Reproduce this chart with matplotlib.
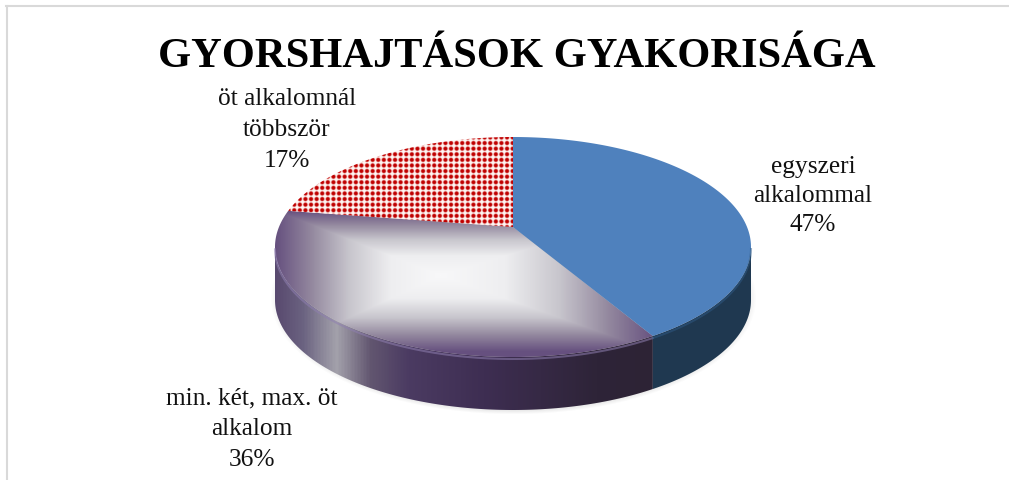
import numpy as np
import matplotlib.pyplot as plt
from matplotlib.colors import LinearSegmentedColormap
from matplotlib.patches import Polygon

# labels as printed on the chart
categories = ['egyszeri\nalkalommal', 'min. két, max. öt\nalkalom', 'öt alkalomnál\ntöbbször']
values = [47, 36, 17]
# the 3D wedges do not follow the printed percents, these are measured off the drawn slices
drawn_shares = [41.6, 35.9, 22.5]
title = 'GYORSHAJTÁSOK GYAKORISÁGA'

plt.rcParams['font.family'] = ['Liberation Serif', 'DejaVu Serif']

fig = plt.figure(figsize=(10.09, 4.8), dpi=100)
ax = fig.add_axes([0, 0, 1, 1])

# pie geometry in pixels
cx, cy = 513, 227
c = 40 / 220
D = 90 * (1 + c)
X = 238 * np.sqrt(1 - c ** 2)
depth = 53


def rim(a0, a1, n=200):
    # a is degrees clockwise from the top of the pie
    t = np.radians(np.linspace(a0, a1, n))
    x, y = np.sin(t), np.cos(t)
    w = 1 + c * y
    return cx + X * x / w, cy - D * y / w


def poly(xs, ys):
    p = Polygon(np.column_stack([xs, ys]), closed=True, fc='none', ec='none')
    ax.add_patch(p)
    return p


def clipped(img, extent, patch, **kw):
    im = ax.imshow(img, extent=extent, origin='upper', aspect='auto', interpolation='bilinear', **kw)
    im.set_clip_path(patch)
    return im


ends = np.cumsum(drawn_shares) / np.sum(drawn_shares) * 360
a_blue, a_mid = ends[0], ends[1]

# angle of the left and right extremes
tt = np.linspace(0, 360, 3601)
xx, _ = rim(0, 360, 3601)
a_right = tt[np.argmax(xx)]
a_left = tt[np.argmin(xx)]

# soft shadow under the pie
gy, gx = np.mgrid[120:450, 250:780]
d = np.sqrt(((gx - 513) / 243.0) ** 2 + ((gy - 298) / 116.0) ** 2)
sh = np.zeros(d.shape + (4,))
sh[..., :3] = 0.45
sh[..., 3] = np.clip((1.0 - d) / 0.09, 0, 1) * 0.4
ax.imshow(sh, extent=(250, 780, 450, 120), origin='upper', aspect='auto', interpolation='bilinear')

# side wall, blue part
x1, y1 = rim(a_right, a_blue)
p = poly(np.r_[x1, x1[::-1]], np.r_[y1, y1[::-1] + depth])
p.set_facecolor('#1f3850')

# side wall, purple part with a sideways gradient
x2, y2 = rim(a_blue, a_left)
p = poly(np.r_[x2, x2[::-1]], np.r_[y2, y2[::-1] + depth])
side_cmap = LinearSegmentedColormap.from_list('side', [
    (0, '#58496f'), (0.07, '#6a6280'), (0.16, '#a3a1ab'), (0.25, '#625670'),
    (0.35, '#4b3b62'), (0.55, '#3e2e52'), (0.85, '#2e2438'), (1, '#2d2335')])
grad = np.linspace(0, 1, 380).reshape(1, -1)
clipped(grad, (275, 655, 420, 240), p, cmap=side_cmap)

# blue slice
x3, y3 = rim(0, a_blue)
ax.fill(np.r_[cx, x3], np.r_[cy, y3], color='#4f81bd', lw=0)

# middle slice with a rectangular path gradient
x4, y4 = rim(a_blue, a_mid)
p = poly(np.r_[cx, x4], np.r_[cy, y4])
top_cmap = LinearSegmentedColormap.from_list('top', [
    (0, '#f8f8f9'), (0.3, '#eeeef0'), (0.55, '#c8c6cd'), (0.78, '#94899f'), (1, '#66507f')])
gy, gx = np.mgrid[205:360, 270:660]
t = np.maximum(np.abs(gx - 440.0) / np.where(gx < 440, 165.0, 215.0),
               np.abs(gy - 275.0) / np.where(gy < 275, 65.0, 76.0))
clipped(np.clip(t, 0, 1), (270, 660, 360, 205), p, cmap=top_cmap, vmin=0, vmax=1)

# red dotted slice
x5, y5 = rim(a_mid, 360)
p = poly(np.r_[cx, x5], np.r_[cy, y5])
gy, gx = np.mgrid[130:235:0.5, 285:520:0.5]
pitch = 5.6
dist = np.hypot((gx % pitch) - pitch / 2, (gy % pitch) - pitch / 2)
dots = np.clip((2.5 - dist) / 0.8, 0, 1)
clipped(dots, (285, 520, 235, 130), p, cmap=LinearSegmentedColormap.from_list('dot', ['#fff8f5', '#c00000']), vmin=0, vmax=1)

# bevel highlight on the front rim
ax.plot(x2, y2 + 2, color='#8f7fb0', lw=1.5, alpha=0.55, solid_capstyle='round')
ax.plot(x1, y1 + 2, color='#2f5a86', lw=1.5, alpha=0.5)

# frame
ax.plot([6.5, 6.5], [480, 6], color='#d9d9d9', lw=1.5)
ax.plot([6, 1009], [6, 6], color='#d9d9d9', lw=1.5)

ax.set_xlim(0, 1009)
ax.set_ylim(480, 0)
ax.axis('off')

ax.text(517, 57, title, ha='center', va='center', fontsize=30.6, fontweight='bold', color='black')

label_pos = [(813, 196, 1.42), (252, 429, 1.52), (287, 130, 1.52)]
for cat, val, (lx, ly, sp) in zip(categories, values, label_pos):
    ax.text(lx, ly, f'{cat}\n{val}%', ha='center', va='center', fontsize=18.3, color='#111111', linespacing=sp)

fig.savefig('out.png', dpi=100)
